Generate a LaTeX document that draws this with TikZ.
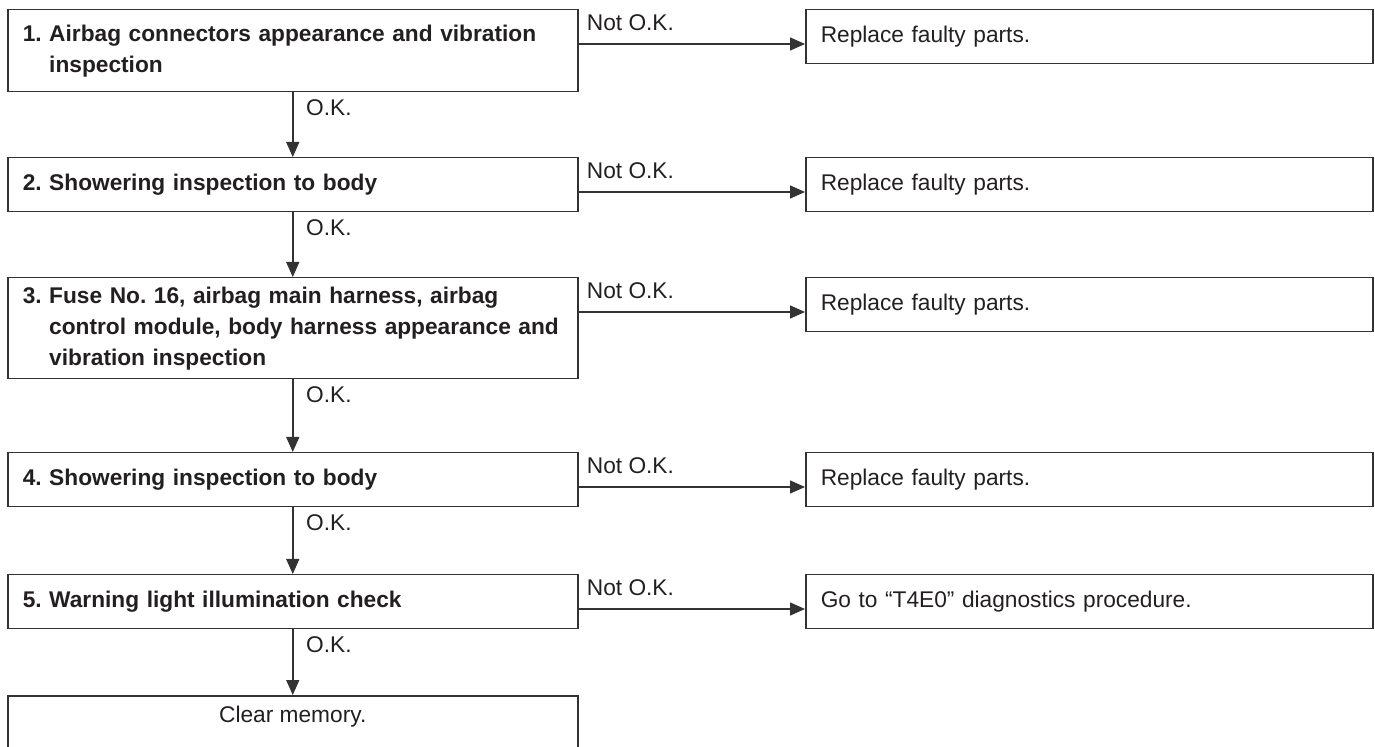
\documentclass[tikz,border=0pt]{standalone}
\usepackage{fontspec}
\setmainfont{Liberation Sans}
\usetikzlibrary{arrows.meta,calc}
\frenchspacing
\definecolor{ink}{HTML}{231F20}
\definecolor{edge}{HTML}{333333}
\tikzset{
  every node/.style={text=ink},
  lbox/.style={draw=edge, line width=0.75pt, rectangle, anchor=north west,
    minimum width=285pt, text width=270pt, inner xsep=7.5pt, inner ysep=0pt,
    align=left, font=\fontsize{11.35}{15.5}\selectfont\bfseries},
  rbox/.style={draw=edge, line width=0.75pt, rectangle, anchor=north west,
    minimum width=283.5pt, minimum height=27pt, text width=268.5pt, inner xsep=7.5pt, inner ysep=0pt,
    align=left, font=\fontsize{11.35}{15.5}\selectfont},
  lbl/.style={inner sep=0pt, anchor=west, font=\fontsize{11.35}{15.5}\selectfont},
  arr/.style={draw=edge, line width=0.75pt, -{Triangle[length=7.5pt,width=6.5pt]}}
}
\begin{document}
\begin{tikzpicture}[x=0.5pt,y=-0.5pt]
\useasboundingbox (0,0) rectangle (1375,747);
\clip (0,0) rectangle (1375,747);
% left column
\node[lbox, minimum height=41pt] (b1) at (7,9) {1. Airbag connectors appearance and vibration\\\hphantom{1. }inspection};
\node[lbox, minimum height=27pt] (b2) at (7,157) {2. Showering inspection to body};
\node[lbox, minimum height=50.5pt] (b3) at (7,277) {3. Fuse No. 16, airbag main harness, airbag\\\hphantom{3. }control module, body harness appearance and\\\hphantom{3. }vibration inspection};
\node[lbox, minimum height=27pt] (b4) at (7,452) {4. Showering inspection to body};
\node[lbox, minimum height=27pt] (b5) at (7,574) {5. Warning light illumination check};
\node[lbox, minimum height=40pt] (b6) at (7,695) {};
\node[lbl, anchor=center] (t6) at ($(b6.north)+(0,22)$) {Clear memory.};
% right column
\node[rbox] (r1) at (805,9) {Replace faulty parts.};
\node[rbox] (r2) at (805,157) {Replace faulty parts.};
\node[rbox] (r3) at (805,277) {Replace faulty parts.};
\node[rbox] (r4) at (805,452) {Replace faulty parts.};
\node[rbox] (r5) at (805,574) {Go to “T4E0” diagnostics procedure.};
% horizontal connectors
\foreach \i in {1,...,5} {
  \coordinate (a\i) at ($(r\i.north west)+(0,35)$);
  \draw[arr] (b\i.east |- a\i) -- (a\i);
  \node[lbl] (n\i) at ($(b\i.north east)+(8,14)$) {Not O.K.};
}
% vertical connectors
\foreach \i/\j in {1/2,2/3,3/4,4/5,5/6} {
  \draw[arr] (b\i.south) -- (b\j.north);
  \node[lbl] (k\i) at ($(b\i.south)+(13,15)$) {O.K.};
}
\end{tikzpicture}
\end{document}
